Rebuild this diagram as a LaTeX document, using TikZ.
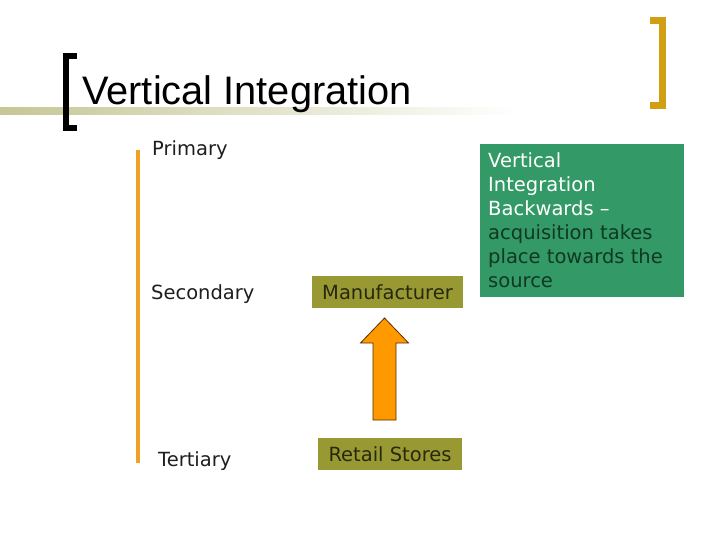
\documentclass[tikz,border=0pt]{standalone}
\usepackage{fontspec}
\setmainfont{DejaVu Sans}
\newfontfamily\titlefont{Liberation Sans}
\definecolor{barcol}{RGB}{198,198,150}
\definecolor{goldcol}{RGB}{208,160,18}
\definecolor{orangeline}{RGB}{240,160,40}
\definecolor{olivebox}{RGB}{153,153,51}
\definecolor{boxtext}{RGB}{40,40,15}
\definecolor{seagreen}{RGB}{51,153,102}
\definecolor{dkgreen}{RGB}{16,56,34}
\definecolor{arrowfill}{RGB}{255,153,0}
\definecolor{arrowline}{RGB}{90,45,0}
\definecolor{labcol}{RGB}{30,30,30}
\begin{document}
\begin{tikzpicture}[x=1pt,y=-1pt,
  bodyfont/.style={font=\fontsize{19.5}{24}\selectfont},
  levellabel/.style={bodyfont,text=labcol,anchor=base west,inner sep=0},
  olivenode/.style={bodyfont,fill=olivebox,text=boxtext,inner sep=0,anchor=center},
]
\useasboundingbox (0,0) rectangle (720,540);
% gradient bar
\shade[left color=barcol,right color=white] (0,108) rectangle (520,115);
% left black bracket
\fill[black] (63,53) rectangle (77,59);
\fill[black] (63,53) rectangle (69,131);
\fill[black] (63,125) rectangle (77,131);
% right gold bracket
\fill[goldcol] (650,17) rectangle (666,24);
\fill[goldcol] (659,17) rectangle (666,109);
\fill[goldcol] (650,102) rectangle (666,109);
% title
\node[anchor=base west,inner sep=0,font=\titlefont\fontsize{39.8}{44}\selectfont] (title) at (82,105) {Vertical Integration};
% orange vertical line
\fill[orangeline] (136,150) rectangle (140,463);
% level labels
\node[levellabel] (primary) at (152,156) {Primary};
\node[levellabel] (secondary) at (151,299) {Secondary};
\node[levellabel] (tertiary) at (158,466) {Tertiary};
% boxes
\node[olivenode,minimum width=151,minimum height=32] (manu) at (387.5,292) {Manufacturer};
\node[olivenode,minimum width=144,minimum height=32] (retail) at (390,454) {Retail Stores};
% block arrow from retail to manufacturer
\coordinate (abot) at (384.5,420);
\coordinate (atip) at (384.5,318);
\filldraw[fill=arrowfill,draw=arrowline,line width=0.8pt,line join=miter]
  ([xshift=-11.5]abot) -- ([xshift=-11.5,yshift=-25]atip) -- ([xshift=-24,yshift=-25]atip)
  -- (atip) -- ([xshift=24,yshift=-25]atip) -- ([xshift=11.5,yshift=-25]atip)
  -- ([xshift=11.5]abot) -- cycle;
% green note box
\node[fill=seagreen,minimum width=204,minimum height=153,anchor=north west,inner sep=0] (gbox) at (480,144) {};
\node[bodyfont,anchor=north west,inner sep=0,align=left,text=dkgreen] (gtext) at (488,152.2)
 {\textcolor{white}{Vertical}\\\textcolor{white}{Integration}\\\textcolor{white}{Backwards –}\\acquisition takes\\place towards the\\source};
\end{tikzpicture}
\end{document}
